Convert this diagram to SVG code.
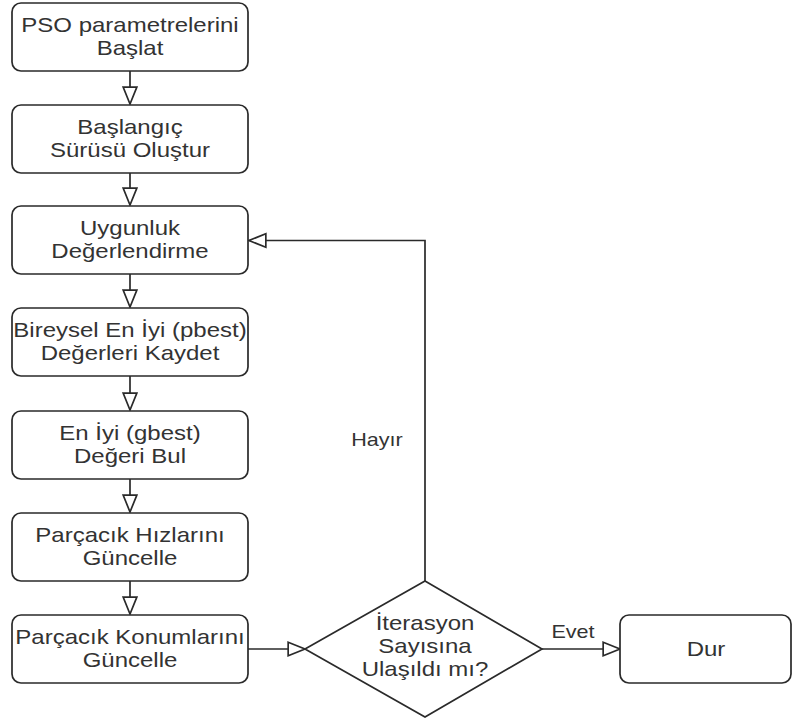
<svg xmlns="http://www.w3.org/2000/svg" width="793" height="722" viewBox="0 0 793 722">
<defs>
<style>
.box{fill:#fff;stroke:#2a2a2a;stroke-width:1.7}
.t{font-family:"Liberation Sans",Arial,sans-serif;font-size:20px;fill:#333;text-anchor:middle}
.lbl{font-family:"Liberation Sans",Arial,sans-serif;font-size:18px;fill:#333;text-anchor:middle}
.edge{fill:none;stroke:#2a2a2a;stroke-width:1.7;marker-end:url(#tri)}
</style>
<marker id="tri" markerUnits="userSpaceOnUse" markerWidth="20" markerHeight="18" viewBox="-1 -1 19 16" refX="17" refY="7" orient="auto">
<path d="M1,0.5 L17,7 L1,13.5 Z" fill="#fff" stroke="#2a2a2a" stroke-width="1.6"/>
</marker>
</defs>
<rect width="793" height="722" fill="#fff"/>
<g id="connectors">
<path class="edge" d="M130,71 L130,104"/>
<path class="edge" d="M130,173 L130,205"/>
<path class="edge" d="M130,274 L130,307"/>
<path class="edge" d="M130,376 L130,410"/>
<path class="edge" d="M130,479 L130,512"/>
<path class="edge" d="M130,581 L130,614"/>
<path class="edge" d="M248,649 L305,649"/>
<path class="edge" d="M542,649 L620,649"/>
<path class="edge" d="M425,581 L425,240.5 L249,240.5"/>
<text class="lbl" transform="translate(573,638) scale(1.2,1)" x="0" y="0">Evet</text>
<text class="lbl" transform="translate(377,446) scale(1.2,1)" x="0" y="0">Hayır</text>
</g>
<g id="n1">
<rect class="box" x="12" y="3" width="236" height="68" rx="9"/>
<text class="t" transform="translate(130,32) scale(1.2,1)"><tspan x="0" y="0">PSO parametrelerini</tspan><tspan x="0" y="23">Başlat</tspan></text>
</g>
<g id="n2">
<rect class="box" x="12" y="105" width="236" height="68" rx="9"/>
<text class="t" transform="translate(130,134) scale(1.2,1)"><tspan x="0" y="0">Başlangıç</tspan><tspan x="0" y="23">Sürüsü Oluştur</tspan></text>
</g>
<g id="n3">
<rect class="box" x="12" y="206" width="236" height="68" rx="9"/>
<text class="t" transform="translate(130,235) scale(1.2,1)"><tspan x="0" y="0">Uygunluk</tspan><tspan x="0" y="23">Değerlendirme</tspan></text>
</g>
<g id="n4">
<rect class="box" x="12" y="308" width="236" height="68" rx="9"/>
<text class="t" transform="translate(130,337) scale(1.2,1)"><tspan x="0" y="0">Bireysel En İyi (pbest)</tspan><tspan x="0" y="23">Değerleri Kaydet</tspan></text>
</g>
<g id="n5">
<rect class="box" x="12" y="411" width="236" height="68" rx="9"/>
<text class="t" transform="translate(130,440) scale(1.2,1)"><tspan x="0" y="0">En İyi (gbest)</tspan><tspan x="0" y="23">Değeri Bul</tspan></text>
</g>
<g id="n6">
<rect class="box" x="12" y="513" width="236" height="68" rx="9"/>
<text class="t" transform="translate(130,542) scale(1.2,1)"><tspan x="0" y="0">Parçacık Hızlarını</tspan><tspan x="0" y="23">Güncelle</tspan></text>
</g>
<g id="n7">
<rect class="box" x="12" y="615" width="236" height="68" rx="9"/>
<text class="t" transform="translate(130,644) scale(1.2,1)"><tspan x="0" y="0">Parçacık Konumlarını</tspan><tspan x="0" y="23">Güncelle</tspan></text>
</g>
<g id="decision">
<path class="box" d="M425,581 L542,649 L425,717 L305,649 Z"/>
<text class="t" transform="translate(425,630) scale(1.2,1)"><tspan x="0" y="0">İterasyon</tspan><tspan x="0" y="23">Sayısına</tspan><tspan x="0" y="46">Ulaşıldı mı?</tspan></text>
</g>
<g id="stop">
<rect class="box" x="620" y="615" width="171" height="68" rx="9"/>
<text class="t" transform="translate(706,656) scale(1.2,1)" x="0" y="0">Dur</text>
</g>
</svg>
